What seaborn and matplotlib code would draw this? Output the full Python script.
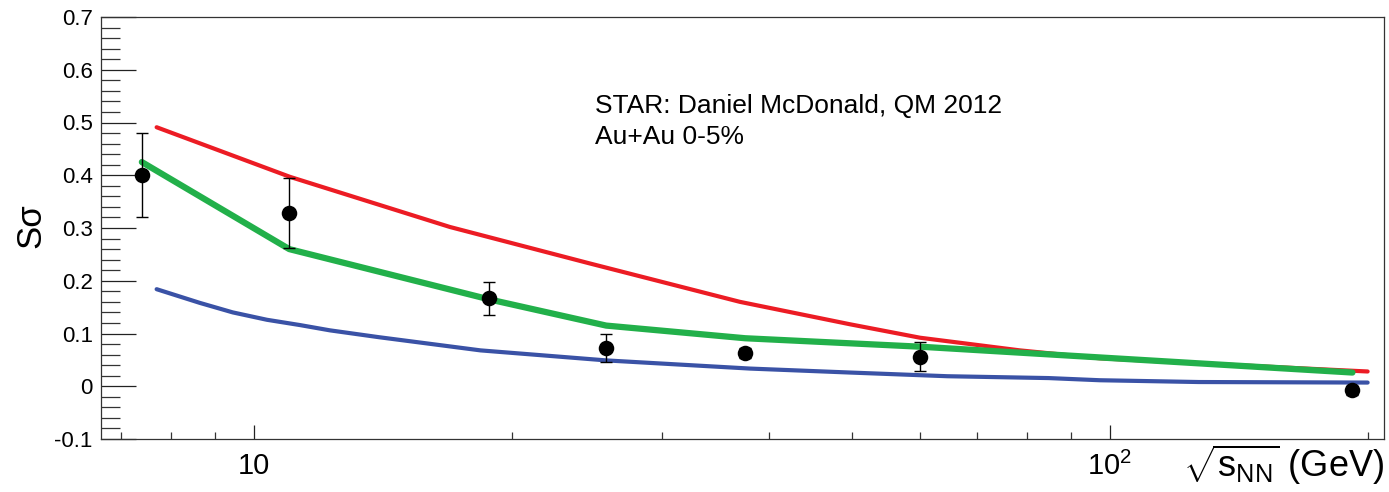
import numpy as np
import pandas as pd
import matplotlib
matplotlib.use("Agg")
import matplotlib.pyplot as plt
import matplotlib.ticker as mticker
import seaborn as sns

# ---- data ----
data_x = [7.4, 11.0, 18.8, 25.8, 37.5, 60.0, 192.0]
data_y = [0.40, 0.329, 0.167, 0.073, 0.063, 0.056, -0.008]
data_err = [0.08, 0.066, 0.031, 0.027, 0.010, 0.027, 0.008]

green_x = [7.4, 11.0, 18.8, 25.8, 37.5, 60.0, 192.0]
green_y = [0.425, 0.260, 0.165, 0.115, 0.091, 0.075, 0.026]

red_x = [7.7, 11.02, 16.94, 24.7, 36.97, 49.7, 60.0, 78.5, 97.3, 127.0, 167.0, 200.0]
red_y = [0.491, 0.397, 0.302, 0.2327, 0.160, 0.1175, 0.092, 0.068, 0.053, 0.0436, 0.034, 0.028]

blue_x = [7.7, 8.65, 9.45, 10.36, 11.32, 12.27, 14.0, 18.4, 25.8, 31.5, 38.0, 49.7,
          64.6, 84.8, 97.3, 127.0, 200.0]
blue_y = [0.184, 0.158, 0.140, 0.126, 0.116, 0.106, 0.093, 0.068, 0.049, 0.041, 0.0335,
          0.026, 0.019, 0.0155, 0.0114, 0.008, 0.007]

xticks_major = [10, 100]
xtick_labels = ["10", r"$10^{2}$"]
annotation = ["STAR: Daniel McDonald, QM 2012", "Au+Au 0-5%"]

# ---- style ----
sns.set_style("white")
plt.rcParams["font.family"] = ["Liberation Sans", "DejaVu Sans"]
plt.rcParams["mathtext.fontset"] = "custom"
plt.rcParams["mathtext.rm"] = "Liberation Sans"
plt.rcParams["mathtext.it"] = "Liberation Sans:italic"
plt.rcParams["mathtext.bf"] = "Liberation Sans:bold"
plt.rcParams["text.color"] = "black"
plt.rcParams["axes.labelcolor"] = "black"

fig = plt.figure(figsize=(13.89, 4.92), dpi=100)
ax = fig.add_axes([101 / 1389, 1 - 439 / 492, (1384 - 101) / 1389, (439 - 17) / 492])

red_df = pd.DataFrame({"x": red_x, "y": red_y})
blue_df = pd.DataFrame({"x": blue_x, "y": blue_y})
green_df = pd.DataFrame({"x": green_x, "y": green_y})
pts_df = pd.DataFrame({"x": data_x, "y": data_y, "err": data_err})

sns.lineplot(data=red_df, x="x", y="y", ax=ax, color="#ec1c24", linewidth=3.0,
             estimator=None, sort=False, zorder=2)
sns.lineplot(data=blue_df, x="x", y="y", ax=ax, color="#3a52a6", linewidth=3.0,
             estimator=None, sort=False, zorder=2)
sns.lineplot(data=green_df, x="x", y="y", ax=ax, color="#22b04a", linewidth=4.5,
             estimator=None, sort=False, zorder=3)

ax.errorbar(pts_df["x"], pts_df["y"], yerr=pts_df["err"], fmt="none",
            ecolor="black", elinewidth=1.0, capsize=4, capthick=1.0, zorder=4)
sns.scatterplot(data=pts_df, x="x", y="y", ax=ax, color="black", s=125,
                edgecolor="black", linewidth=0, zorder=5)

ax.set_xscale("log")
ax.set_xlim(6.63, 209)
ax.set_ylim(-0.1, 0.7)

ax.xaxis.set_major_locator(mticker.FixedLocator(xticks_major))
ax.xaxis.set_major_formatter(mticker.FixedFormatter(xtick_labels))
ax.xaxis.set_minor_locator(mticker.LogLocator(base=10, subs=np.arange(2, 10)))
ax.xaxis.set_minor_formatter(mticker.NullFormatter())

ax.yaxis.set_major_locator(mticker.MultipleLocator(0.1))
ax.yaxis.set_minor_locator(mticker.MultipleLocator(0.02))
ax.yaxis.set_major_formatter(mticker.FuncFormatter(
    lambda v, p: "0" if abs(v) < 1e-9 else f"{v:.1f}"))

ax.tick_params(which="both", bottom=True, left=True, top=False, right=False)
ax.tick_params(axis="y", which="major", direction="in", length=25, width=0.9,
               labelsize=16, pad=6, colors="#222222", labelcolor="black")
ax.tick_params(axis="y", which="minor", direction="in", length=13.5, width=0.9,
               colors="#333333")
ax.tick_params(axis="x", which="major", direction="in", length=10, width=0.9,
               labelsize=21, pad=9, colors="#222222", labelcolor="black")
ax.tick_params(axis="x", which="minor", direction="in", length=5, width=0.9,
               colors="#333333")

for s in ax.spines.values():
    s.set_color("#333333")
    s.set_linewidth(0.9)

ax.set_xlabel("")
ax.set_ylabel("")
ax.grid(False)

fig.text(31 / 1389, 1 - 226 / 492, "S\u03c3", rotation=90, ha="center", va="center",
         fontsize=25, color="black")
fig.text(1384 / 1389, 1 - 477 / 492, r"$\sqrt{\mathrm{s}_{\mathrm{NN}}}$ (GeV)",
         ha="right", va="baseline", fontsize=26, color="black")

ax.text(0.385, 0.7725, annotation[0], transform=ax.transAxes, fontsize=19,
        ha="left", va="baseline", color="black")
ax.text(0.385, 0.699, annotation[1], transform=ax.transAxes, fontsize=19,
        ha="left", va="baseline", color="black")

fig.savefig("out.png", dpi=100)
